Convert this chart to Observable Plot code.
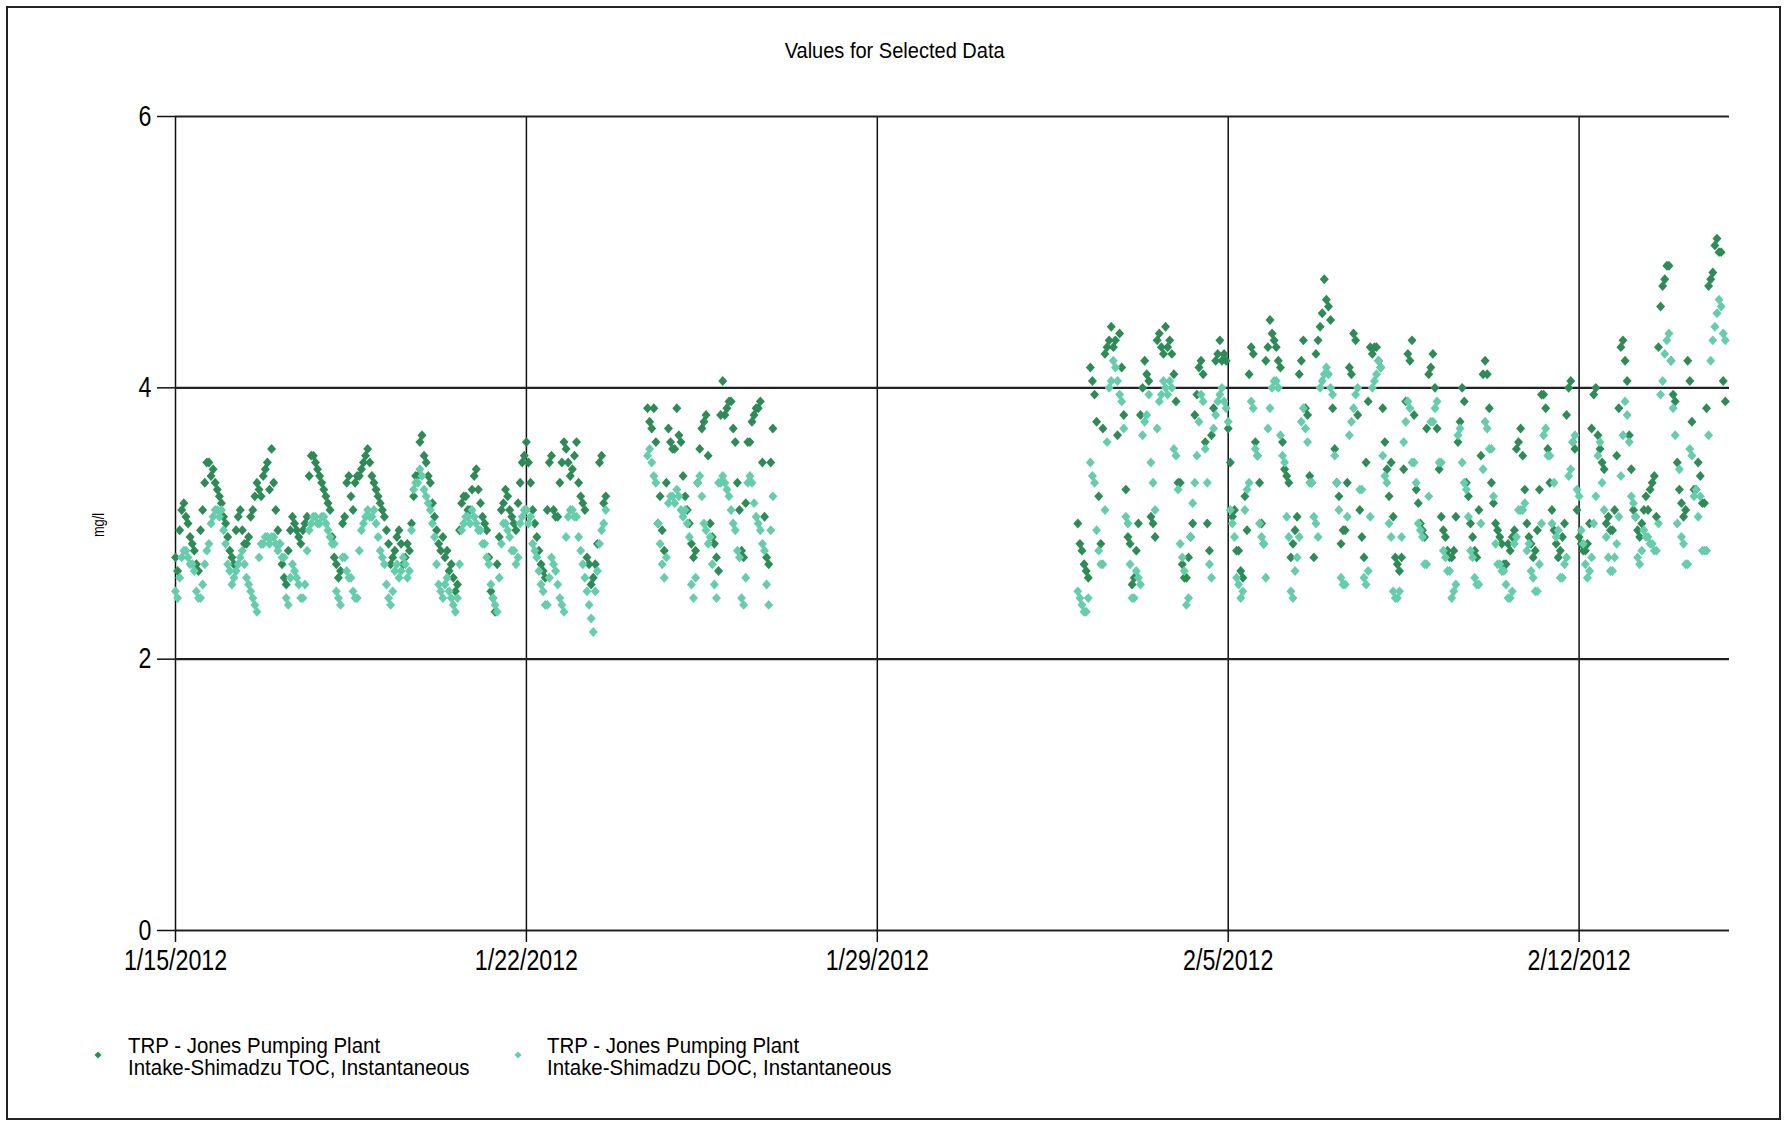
<!DOCTYPE html>
<html>
<head>
<meta charset="utf-8">
<script src="https://cdn.jsdelivr.net/npm/d3@7"></script>
<script src="https://cdn.jsdelivr.net/npm/@observablehq/plot@0.6"></script>
<style>
  html, body { margin: 0; padding: 0; background: #fff; overflow: hidden; }
  body { width: 1789px; height: 1121px; position: relative; font-family: 'Liberation Sans', Arial, sans-serif; color: #000; }
  #frame { position: absolute; left: 6px; top: 6px; width: 1771px; height: 1110px; border: 2px solid #222; box-sizing: content-box; }
  #title { position: absolute; left: 0; width: 1789px; top: 40px; text-align: center; font-size: 22px; line-height: 22px; transform: scaleX(0.91); transform-origin: 896px 0; }
  #chart { position: absolute; left: 0; top: 70px; }
  #ylabel { position: absolute; left: 99px; top: 525px; font-size: 16px; transform: translate(-50%, -50%) rotate(-90deg) scaleX(0.8); white-space: nowrap; }
  .leg { position: absolute; font-size: 22px; line-height: 22px; white-space: nowrap; transform: scaleX(0.93); transform-origin: 0 0; }
  .mk { position: absolute; width: 5px; height: 5px; transform: translate(-50%, -50%) rotate(45deg); }
</style>
</head>
<body>
<div id="frame"></div>
<div id="title">Values for Selected Data</div>
<div id="chart"></div>
<div id="ylabel">mg/l</div>
<div class="mk" id="mk1" style="left:98px; top:1055px;"></div>
<div class="leg" style="left:128px; top:1035px;">TRP - Jones Pumping Plant</div>
<div class="leg" style="left:128px; top:1057px;">Intake-Shimadzu TOC, Instantaneous</div>
<div class="mk" id="mk2" style="left:518px; top:1055px;"></div>
<div class="leg" style="left:547px; top:1035px;">TRP - Jones Pumping Plant</div>
<div class="leg" style="left:547px; top:1057px;">Intake-Shimadzu DOC, Instantaneous</div>
<script>
// ---- data ----
const seriesNames = ["TRP - Jones Pumping Plant Intake-Shimadzu TOC, Instantaneous", "TRP - Jones Pumping Plant Intake-Shimadzu DOC, Instantaneous"];
const seriesColors = ["#2E8B57", "#66CDAA"];
const xTickDates = ["2012-01-15", "2012-01-22", "2012-01-29", "2012-02-05", "2012-02-12"];
const xDomainDates = ["2012-01-15", "2012-02-15"];
const yTicks = [0, 2, 4, 6];
const sampleStepHours = 2;   // each array holds one reading every 2 hours
const segmentStarts = ["2012-01-15T00:00:00Z", "2012-01-24T10:00:00Z", "2012-02-02T00:00:00Z"];

// segment 1: 1/15 00:00 - 1/23 14:00  (even hours / odd hours)
const tocSeg1 = [2.75,2.95,3.15,3.0,2.85,2.7,2.95,3.3,3.45,3.4,3.25,3.15,3.0,2.8,2.7,3.05,2.95,2.85,3.05,3.2,3.25,3.35,3.45,3.55,3.1,2.85,2.6,2.8,3.05,2.95,2.85,3.0,3.35,3.5,3.4,3.3,3.2,3.1,2.75,2.6,3.0,3.3,3.2,3.3,3.35,3.45,3.55,3.35,3.25,3.15,3.05,2.85,2.75,2.9,2.85,2.75,2.8,3.2,3.35,3.65,3.45,3.3,3.05,2.85,2.9,2.8,2.7,2.5,2.95,3.2,3.1,3.25,3.4,3.15,3.0,2.75,2.45,2.7,3.1,3.25,3.1,3.0,3.15,3.45,3.6,3.3,3.0,2.8,2.65,3.1,3.5,3.05,3.3,3.6,3.45,3.4,3.6,3.2,3.1,2.7,2.6,2.85,3.5,3.2];
const tocSeg1b = [2.65,3.1,3.05,2.9,2.8,2.65,3.1,3.45,3.35,3.3,3.2,3.05,2.9,2.75,2.95,3.1,2.85,2.9,3.1,3.3,3.2,3.4,3.25,3.3,2.95,2.7,2.55,2.95,3.0,2.9,2.95,3.05,3.5,3.45,3.35,3.25,3.15,2.9,2.7,2.65,3.05,3.35,3.1,3.35,3.4,3.5,3.45,3.3,3.2,3.1,2.95,2.7,2.8,2.95,2.7,2.85,3.0,3.35,3.6,3.5,3.35,3.15,2.95,2.8,2.75,2.65,2.6,2.55,3.15,3.2,3.1,3.35,3.25,3.05,2.95,2.5,2.35,2.9,3.15,3.2,3.05,2.95,3.3,3.5,3.45,3.1,2.9,2.7,2.6,3.45,3.1,3.05,3.45,3.55,3.35,3.5,3.3,3.15,2.75,2.55,2.7,3.45,3.15];
const docSeg1 = [2.5,2.6,2.8,2.75,2.7,2.5,2.45,2.7,2.85,3.05,3.1,3.1,2.85,2.65,2.6,2.7,2.8,2.6,2.5,2.4,2.75,2.85,2.9,2.9,2.85,2.85,2.75,2.4,2.7,2.6,2.45,2.55,2.95,3.05,3.0,3.05,3.0,2.9,2.85,2.45,2.75,2.65,2.6,2.45,2.8,3.0,3.1,3.05,3.0,2.8,2.7,2.45,2.5,2.7,2.65,2.7,2.65,3.25,3.3,3.35,3.2,3.1,2.9,2.55,2.45,2.6,2.45,2.35,2.7,3.0,3.05,3.1,3.0,2.95,2.85,2.7,2.45,2.35,2.85,3.0,2.9,2.8,2.75,3.05,3.1,3.05,2.8,2.65,2.5,2.4,2.75,2.65,2.45,2.35,3.05,3.1,3.05,2.8,2.6,2.4,2.2,2.65,2.95,3.1];
const docSeg1b = [2.45,2.75,2.8,2.7,2.65,2.45,2.55,2.8,3.0,3.1,3.05,2.95,2.7,2.55,2.65,2.75,2.7,2.55,2.45,2.35,2.85,2.9,2.85,2.9,2.8,2.75,2.45,2.6,2.65,2.55,2.45,2.8,3.0,3.05,3.0,3.05,2.95,2.85,2.5,2.4,2.75,2.6,2.5,2.45,2.95,3.05,3.05,3.1,2.9,2.75,2.55,2.4,2.65,2.6,2.75,2.6,2.95,3.3,3.4,3.25,3.15,3.0,2.7,2.5,2.55,2.5,2.4,2.45,2.95,3.05,3.0,3.05,2.95,2.85,2.75,2.55,2.4,2.6,3.0,2.95,2.8,2.7,3.0,3.1,3.0,2.85,2.75,2.55,2.4,2.6,2.7,2.55,2.4,2.9,3.1,3.05,2.9,2.7,2.5,2.3,2.5,2.85,3.0];

// segment 2: 1/24 10:00 - 1/26 22:00
const tocSeg2 = [3.85,3.7,3.6,3.2,2.8,3.7,3.55,3.85,3.6,3.2,3.0,2.75,3.3,3.7,3.8,3.0,2.85,2.65,4.05,3.85,3.9,3.6,3.1,2.75,3.6,3.75,3.85,3.9,3.05,2.7,3.7];
const tocSeg2b = [3.75,3.85,3.0,2.95,3.3,3.6,3.55,3.65,3.35,3.1,2.85,2.8,3.55,3.75,3.5,2.9,2.75,3.8,3.8,3.9,3.7,3.3,2.8,3.15,3.6,3.8,3.85,3.45,2.75,3.45];
const docSeg2 = [3.5,3.45,3.3,2.85,2.6,3.15,3.2,3.25,3.1,3.1,2.9,2.45,3.3,3.2,2.95,2.9,2.55,3.3,3.35,3.25,3.1,2.95,2.75,2.4,3.3,3.3,3.05,2.95,2.8,2.4,3.2];
const docSeg2b = [3.55,3.35,3.0,2.7,2.75,3.2,3.15,3.2,3.05,3.0,2.55,2.6,3.35,3.0,2.85,2.7,2.45,3.3,3.3,3.2,3.0,2.8,2.45,2.6,3.35,3.15,3.0,2.85,2.55,2.95];

// segment 3: 2/2 00:00 - 2/14 22:00
const tocSeg3 = [3.0,2.8,2.65,4.15,3.95,3.2,3.7,4.3,4.45,4.35,4.4,3.8,2.9,2.55,2.8,3.8,4.2,4.05,3.0,4.35,4.3,4.45,4.35,4.1,3.3,2.7,2.6,2.9,3.8,4.15,4.1,3.0,3.65,4.2,4.35,4.25,3.7,3.05,2.8,2.65,3.2,4.1,4.25,3.5,3.0,4.2,4.5,4.35,4.2,3.6,3.35,2.75,2.95,4.1,4.35,3.8,3.3,4.25,4.45,4.8,4.6,3.85,3.3,2.85,2.95,4.15,4.4,3.8,2.9,3.45,4.3,4.3,4.2,3.85,3.4,3.45,2.75,2.65,3.4,4.25,4.35,3.25,3.0,2.9,4.1,4.25,3.7,3.05,2.9,2.75,2.8,3.6,4.0,3.3,3.0,2.8,3.1,4.1,4.1,3.3,3.0,2.9,2.7,2.85,2.9,3.55,3.7,3.25,2.9,2.75,2.95,3.95,3.85,3.3,2.95,2.75,2.9,3.8,4.05,3.55,2.9,2.8,2.85,3.7,4.0,3.55,3.4,3.05,2.95,3.5,4.3,4.2,3.65,3.1,2.95,3.0,3.2,3.25,3.35,4.3,4.75,4.9,4.2,3.9,3.25,3.05,4.2,3.75,3.25,3.35,3.15,4.75,4.85,5.1,5.0,3.9];
const tocSeg3b = [2.85,2.7,2.6,4.05,3.75,2.85,4.25,4.35,4.3,3.65,4.15,3.25,2.85,2.6,3.0,4.0,4.1,3.05,2.9,4.4,4.25,4.3,4.25,3.9,3.3,2.6,2.75,3.0,3.95,4.2,3.6,2.8,3.85,4.25,4.2,4.2,3.45,3.1,2.8,2.6,2.95,4.3,3.6,3.3,2.85,4.3,4.4,4.3,4.15,3.4,3.3,2.85,3.05,4.2,3.85,3.35,2.75,4.35,4.55,4.65,4.5,3.55,3.2,2.95,3.3,4.1,4.35,3.1,2.75,3.9,4.25,4.3,4.15,3.6,3.2,3.05,2.7,2.75,3.9,4.2,3.8,3.15,2.95,3.7,4.15,4.0,3.4,2.95,2.8,2.75,3.05,3.75,3.9,3.2,2.9,2.75,3.5,4.2,3.85,3.15,2.95,2.85,2.7,2.8,2.95,3.6,3.5,3.0,2.85,2.8,3.25,3.95,3.55,3.1,2.85,2.8,3.0,4.0,3.6,3.1,2.85,2.8,3.0,3.95,3.65,3.45,3.0,2.95,3.1,3.85,4.35,4.05,3.4,3.05,2.9,3.1,3.1,3.3,3.05,4.6,4.8,4.9,3.95,3.45,3.15,3.1,4.05,3.25,3.45,3.15,3.85,4.8,5.05,5.0,4.05];
const docSeg3 = [2.5,2.4,2.35,3.45,3.3,2.8,2.7,3.6,4.05,4.15,3.95,3.7,3.0,2.45,2.65,2.55,3.75,3.95,3.3,3.7,3.95,4.0,4.05,3.55,3.25,2.75,2.4,2.9,3.3,3.75,3.9,3.3,2.6,3.8,3.95,3.9,3.75,3.0,2.6,2.45,3.1,3.3,3.85,3.5,2.9,2.6,3.85,4.05,4.0,3.5,3.05,2.5,2.65,2.9,3.85,3.6,3.3,3.0,4.0,4.1,4.1,3.95,3.3,2.6,2.55,3.65,3.85,4.0,3.25,2.55,3.05,4.05,4.2,3.5,3.3,2.9,2.45,2.5,3.6,3.9,3.45,3.3,2.95,2.7,3.2,3.75,3.9,3.45,2.75,2.65,2.5,3.65,3.45,3.25,2.8,2.6,2.55,3.4,3.7,3.55,2.85,2.7,2.65,2.45,2.5,2.9,3.1,3.15,2.85,2.6,2.5,3.0,3.7,3.5,3.3,2.95,2.6,2.75,3.4,3.65,3.2,2.85,2.6,2.75,3.2,3.6,3.1,2.75,2.65,2.85,3.35,3.9,3.6,3.15,2.75,2.8,2.9,2.85,2.8,3.0,4.05,4.35,4.2,3.65,3.4,2.85,2.7,3.5,3.25,3.2,2.8,3.65,4.35,4.55,4.6,4.35];
const docSeg3b = [2.45,2.35,2.45,3.35,2.95,2.7,3.1,4.0,4.2,4.05,3.9,3.05,2.7,2.45,2.6,3.65,3.8,3.45,3.1,3.9,4.05,3.95,4.0,3.5,2.85,2.65,2.45,3.15,3.5,3.95,3.55,2.7,3.7,3.9,4.0,3.85,3.1,2.9,2.55,2.5,3.25,3.9,3.55,3.0,2.85,3.7,4.0,4.05,3.65,3.45,2.9,2.45,2.75,3.75,3.7,3.3,3.05,2.9,4.05,4.15,4.0,3.5,3.1,2.55,3.05,3.75,3.95,3.25,2.6,2.65,4.0,4.1,4.15,3.35,3.0,2.5,2.45,2.9,3.75,3.85,3.45,3.0,2.9,2.7,3.75,3.85,3.45,2.8,2.65,2.45,2.55,3.7,3.3,3.05,2.75,2.55,3.0,3.75,3.55,3.2,2.7,2.65,2.55,2.45,2.85,3.1,3.1,2.8,2.65,2.5,2.7,3.65,3.5,3.0,2.9,2.6,2.7,3.35,3.6,3.25,2.95,2.7,2.65,3.0,3.5,3.3,2.9,2.65,2.75,3.05,3.65,3.8,3.2,3.05,2.7,2.95,2.9,2.85,2.8,3.95,4.25,4.4,3.85,3.0,2.9,2.7,3.55,3.2,3.05,2.8,2.8,4.2,4.45,4.65,4.4];

const tocSegments = [[tocSeg1, tocSeg1b], [tocSeg2, tocSeg2b], [tocSeg3, tocSeg3b]];
const docSegments = [[docSeg1, docSeg1b], [docSeg2, docSeg2b], [docSeg3, docSeg3b]];

// ---- build tables ----
function buildRows(segments) {
  const rows = [];
  segments.forEach(([evenVals, oddVals], s) => {
    const t0 = new Date(segmentStarts[s]).getTime();
    evenVals.forEach((v, i) => rows.push({date: new Date(t0 + i * sampleStepHours * 3600e3), value: v}));
    oddVals.forEach((v, i) => rows.push({date: new Date(t0 + (i * sampleStepHours + 1) * 3600e3), value: v}));
  });
  return rows.sort((a, b) => a.date - b.date);
}
const tocRows = buildRows(tocSegments);
const docRows = buildRows(docSegments);
const xTicks = xTickDates.map(d => new Date(d + "T00:00:00Z"));
const xDomain = xDomainDates.map(d => new Date(d + "T00:00:00Z"));

const diamond = {
  draw(context, size) {
    const h = Math.sqrt(size / Math.PI);
    context.moveTo(0, -h * 1.1);
    context.lineTo(h, 0);
    context.lineTo(0, h * 1.1);
    context.lineTo(-h, 0);
    context.closePath();
  }
};

document.getElementById("mk1").style.background = seriesColors[0];
document.getElementById("mk2").style.background = seriesColors[1];

const chart = Plot.plot({
  width: 1789,
  height: 930,
  marginLeft: 175,
  marginRight: 60,
  marginTop: 46,
  marginBottom: 70,
  style: {fontFamily: "'Liberation Sans', Arial, sans-serif", fontSize: "29px", color: "#000", background: "transparent", overflow: "visible"},
  x: {type: "utc", domain: xDomain},
  y: {domain: [0, 6]},
  marks: [
    Plot.ruleX(xTicks, {stroke: "#111", strokeWidth: 1.5}),
    Plot.ruleY(yTicks, {stroke: "#222", strokeWidth: 2.2}),
    Plot.dot(tocRows, {x: "date", y: "value", fill: seriesColors[0], symbol: diamond, r: 4.5, title: () => seriesNames[0]}),
    Plot.dot(docRows, {x: "date", y: "value", fill: seriesColors[1], symbol: diamond, r: 4.5, title: () => seriesNames[1]}),
    Plot.axisY({ticks: yTicks, tickFormat: d => String(d), tickSize: 18, tickPadding: 6, label: null, stroke: "#111", strokeWidth: 1.5}),
    Plot.axisX({ticks: xTicks, tickFormat: d3.utcFormat("%-m/%-d/%Y"), tickSize: 12, tickPadding: 7, label: null, stroke: "#111", strokeWidth: 1.5})
  ]
});
document.getElementById("chart").appendChild(chart);

// narrow the tick labels horizontally to match the condensed look of the original
chart.querySelectorAll("g[aria-label$='tick label'] text").forEach(t => {
  const tr = t.getAttribute("transform");
  if (tr && tr.includes("translate")) {
    t.setAttribute("transform", tr + " scale(0.8 1)");
  } else {
    const x = +t.getAttribute("x") || 0, y = +t.getAttribute("y") || 0;
    t.setAttribute("transform", `translate(${x},${y}) scale(0.8 1) translate(${-x},${-y})`);
  }
});
</script>
</body>
</html>
